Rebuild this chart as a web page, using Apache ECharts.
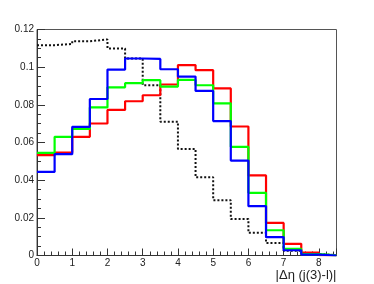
<!DOCTYPE html>
<html>
<head>
<meta charset="utf-8">
<script src="https://cdn.jsdelivr.net/npm/echarts@6/dist/echarts.min.js"></script>
<style>
  html, body { margin: 0; padding: 0; background: #fff; }
  #chart { width: 374px; height: 284px; }
</style>
</head>
<body>
<div id="chart"></div>
<script>
// bin left edges, width 0.5
const binEdges = [0, 0.5, 1, 1.5, 2, 2.5, 3, 3.5, 4, 4.5, 5, 5.5, 6, 6.5, 7, 7.5, 8, 8.5];

const redVals = [0.0533, 0.0547, 0.0630, 0.0701, 0.0773, 0.0819, 0.0851, 0.0908, 0.1011,
  0.0984, 0.0887, 0.0685, 0.0425, 0.0173, 0.0062, 0.0015, 0.0002];
const greenVals = [0.0545, 0.0630, 0.0672, 0.0786, 0.0893, 0.0915, 0.0931, 0.0897, 0.0933,
  0.0904, 0.0808, 0.0577, 0.0333, 0.0134, 0.0035, 0.0007, 0.0001];
const blueVals = [0.0444, 0.0538, 0.0683, 0.0831, 0.0987, 0.1046, 0.1044, 0.0989, 0.0950,
  0.0874, 0.0714, 0.0504, 0.0262, 0.0098, 0.0028, 0.0005, 0.0000];
const blackVals = [0.1117, 0.1123, 0.1138, 0.1147, 0.1099, 0.1046, 0.0904, 0.0710, 0.0566,
  0.0415, 0.0294, 0.0194, 0.0121, 0.0066, 0.0025, 0.0008, 0.0002];

const xTitle = "|\u0394\u03b7 (j(3)-l)|";

// histogram outline: one point per bin low edge, plus the last high edge
function histPoints(vals) {
  const pts = vals.map((v, i) => [binEdges[i], v]);
  pts.push([binEdges[vals.length], vals[vals.length - 1]]);
  return pts;
}

function histSeries(vals, color, dashed) {
  return {
    type: "line",
    step: "end",
    data: histPoints(vals),
    symbol: "none",
    silent: true,
    lineStyle: {
      color: color,
      width: dashed ? 2 : 2.2,
      type: dashed ? [2, 2] : "solid",
    },
  };
}

const chart = echarts.init(document.getElementById("chart"));

const option = {
  backgroundColor: "#fff",
  animation: false,
  grid: {
    left: 37,
    right: 37.5,
    top: 29.5,
    bottom: 28.5,
    show: true,
    borderColor: "#555",
    borderWidth: 1,
  },
  xAxis: {
    type: "value",
    min: 0,
    max: 8.5,
    interval: 1,
    name: xTitle,
    nameLocation: "end",
    nameGap: 0,
    nameTextStyle: {
      fontFamily: "Liberation Sans",
      fontSize: 13,
      color: "#222",
      align: "right",
      verticalAlign: "top",
      padding: [13, 0, 0, 0],
    },
    axisLine: { lineStyle: { color: "#333", width: 1 } },
    axisTick: { inside: true, length: 7, lineStyle: { color: "#333" } },
    minorTick: { show: true, splitNumber: 5, length: 4, lineStyle: { color: "#333" } },
    splitLine: { show: false },
    axisLabel: {
      fontFamily: "Liberation Sans",
      fontSize: 10,
      color: "#222",
      margin: 3,
      showMaxLabel: false,
    },
  },
  yAxis: {
    type: "value",
    min: 0,
    max: 0.12,
    interval: 0.02,
    axisLine: { lineStyle: { color: "#333", width: 1 } },
    axisTick: { inside: true, length: 8, lineStyle: { color: "#333" } },
    minorTick: { show: true, splitNumber: 4, length: 4, lineStyle: { color: "#333" } },
    splitLine: { show: false },
    axisLabel: {
      fontFamily: "Liberation Sans",
      fontSize: 10,
      color: "#222",
      margin: 3,
    },
  },
  series: [
    histSeries(blackVals, "#111", true),
    histSeries(redVals, "#ff0000", false),
    histSeries(greenVals, "#00ff00", false),
    histSeries(blueVals, "#0000ff", false),
  ],
};

chart.setOption(option);
</script>
</body>
</html>
